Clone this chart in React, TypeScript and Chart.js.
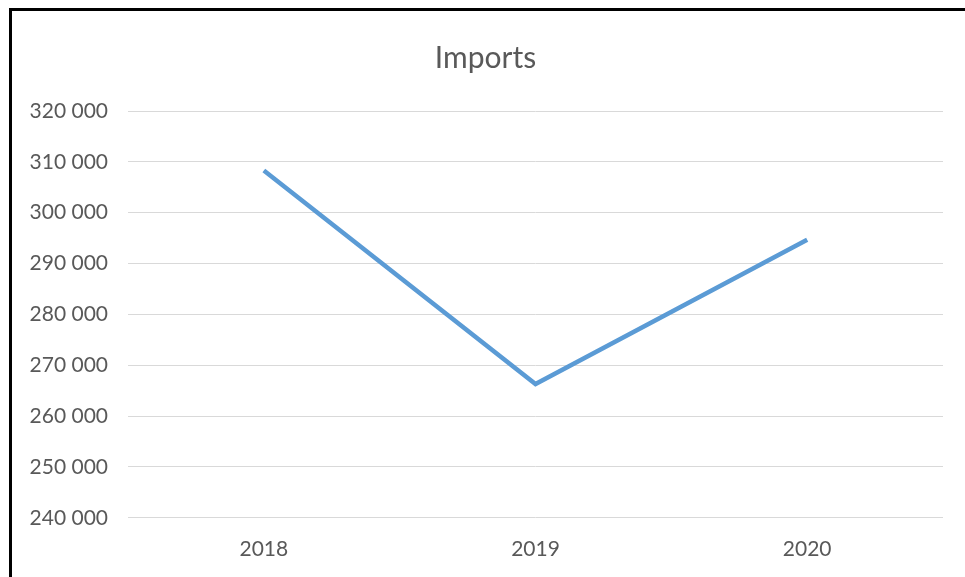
import React, { useEffect, useRef } from "react";
import { Chart, registerables } from "chart.js";

Chart.register(...registerables);

const years = ["2018", "2019", "2020"];
const imports = [308300, 266300, 294700];
const yMin = 240000;
const yMax = 320000;
const yStep = 10000;

const fmt = (v: number) => String(v).replace(/\B(?=(\d{3})+(?!\d))/g, " ");

export default function App() {
  const ref = useRef<HTMLCanvasElement | null>(null);
  useEffect(() => {
    document.body.style.overflow = "hidden";
    const chart = new Chart(ref.current!, {
      type: "line",
      data: {
        labels: years,
        datasets: [
          {
            label: "Imports",
            data: imports,
            borderColor: "#5B9BD5",
            backgroundColor: "#5B9BD5",
            borderWidth: 4.5,
            pointRadius: 0,
            tension: 0,
          },
        ],
      },
      options: {
        animation: false,
        responsive: true,
        maintainAspectRatio: false,
        layout: { padding: { left: 16, right: 22, top: 0, bottom: 4 } },
        plugins: {
          legend: { display: false },
          tooltip: { enabled: false },
          title: {
            display: true,
            text: "Imports",
            color: "#595959",
            font: { family: "Lato", size: 30, weight: "normal" },
            padding: { top: 29, bottom: 35 },
          },
        },
        scales: {
          x: {
            offset: true,
            grid: { display: false },
            border: { display: false },
            ticks: {
              color: "#595959",
              font: { family: "Lato", size: 21 },
              padding: 11,
            },
          },
          y: {
            min: yMin,
            max: yMax,
            grid: { color: "#d9d9d9", lineWidth: 1, drawTicks: false },
            border: { display: false },
            afterFit: (s: any) => {
              s.width = 100;
            },
            ticks: {
              stepSize: yStep,
              color: "#595959",
              font: { family: "Lato", size: 21 },
              padding: 20,
              callback: (v: any) => fmt(Number(v)),
            },
          },
        },
      },
    });
    return () => chart.destroy();
  }, []);
  return (
    <div
      style={{
        position: "absolute",
        left: 9,
        top: 8,
        width: 953,
        height: 566,
        borderLeft: "3px solid #000",
        borderTop: "3px solid #000",
        background: "#fff",
      }}
    >
      <canvas ref={ref} />
    </div>
  );
}
